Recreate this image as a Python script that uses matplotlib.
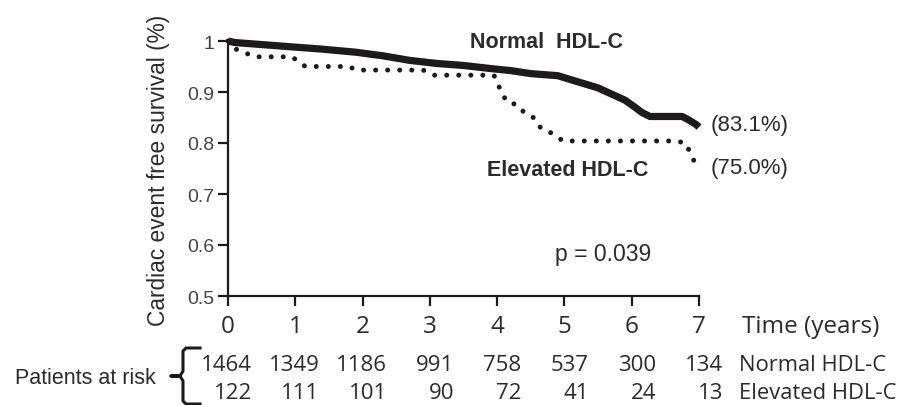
import matplotlib
matplotlib.use("Agg")
import matplotlib.pyplot as plt
from matplotlib.lines import Line2D
import matplotlib.transforms as mtrans

# ---- data ----
normal_t = [0, 0.1, 0.5, 1.0, 1.4, 1.9, 2.3, 2.7, 3.1, 3.5, 3.9, 4.2, 4.5, 4.9,
            5.1, 5.3, 5.5, 5.7, 5.9, 6.05, 6.15, 6.27, 6.75, 6.85, 6.96, 7.0]
normal_s = [1.0, 0.997, 0.993, 0.988, 0.984, 0.978, 0.971, 0.962, 0.956, 0.952,
            0.946, 0.942, 0.936, 0.932, 0.924, 0.916, 0.908, 0.896, 0.884, 0.870,
            0.860, 0.852, 0.852, 0.845, 0.836, 0.831]

elev_t = [0, 0.1, 0.4, 0.95, 1.15, 1.8, 1.9, 2.9, 3.05, 3.95, 4.0, 4.05, 4.15,
          4.3, 4.4, 4.55, 4.65, 4.8, 4.98, 6.65, 6.8, 6.88, 6.96]
elev_s = [1.0, 0.985, 0.969, 0.969, 0.950, 0.950, 0.943, 0.943, 0.933, 0.933,
          0.922, 0.902, 0.880, 0.875, 0.860, 0.849, 0.829, 0.820, 0.804, 0.804,
          0.800, 0.778, 0.755]

years = [0, 1, 2, 3, 4, 5, 6, 7]
risk_normal = [1464, 1349, 1186, 991, 758, 537, 300, 134]
risk_elevated = [122, 111, 101, 90, 72, 41, 24, 13]
yticks = [0.5, 0.6, 0.7, 0.8, 0.9, 1.0]
ytick_labels = ["0.5", "0.6", "0.7", "0.8", "0.9", "1"]

TXT = "#2b2b2b"
LINE = "#1e1a1b"
W, H = 901, 406

fig = plt.figure(figsize=(W / 100, H / 100), dpi=100)
ax = fig.add_axes([228 / W, 1 - 297 / H, 471 / W, 255 / H])

ax.plot(normal_t, normal_s, color=LINE, lw=5.2,
        solid_joinstyle="round", solid_capstyle="butt", clip_on=False, zorder=3)
ax.plot(elev_t, elev_s, color=LINE, lw=3.6,
        linestyle=(0, (0.01, 2.4)), dash_capstyle="round", clip_on=False, zorder=3)

ax.set_xlim(0, 7)
ax.set_ylim(0.5, 1.0)
for s in ["top", "right"]:
    ax.spines[s].set_visible(False)
for s in ["left", "bottom"]:
    ax.spines[s].set_linewidth(1.6)
    ax.spines[s].set_color(LINE)

ax.set_yticks(yticks)
ax.set_yticklabels(ytick_labels, fontfamily="Liberation Sans", fontsize=14, color="#444444")
ax.set_xticks(years)
ax.set_xticklabels([str(y) for y in years], fontfamily="Open Sans", fontsize=17.5, color=TXT)
ax.tick_params(axis="y", direction="out", length=7, width=1.6, color=LINE, pad=3)
ax.tick_params(axis="x", direction="out", length=7, width=1.6, color=LINE, pad=6)


def fx(px):
    return px / W


def fy(py):
    return 1 - py / H


fig.text(fx(546), fy(42), "Normal  HDL-C", ha="center", va="center",
         fontfamily="Liberation Sans", fontweight="bold", fontsize=15.5, color=TXT)
fig.text(fx(568), fy(171), "Elevated HDL-C", ha="center", va="center",
         fontfamily="Liberation Sans", fontweight="bold", fontsize=15.5, color=TXT)
fig.text(fx(711), fy(126), "(83.1%)", ha="left", va="center",
         fontfamily="Liberation Sans", fontsize=16, color=TXT)
fig.text(fx(711), fy(169), "(75.0%)", ha="left", va="center",
         fontfamily="Liberation Sans", fontsize=16, color=TXT)
fig.text(fx(603), fy(255), "p = 0.039", ha="center", va="center",
         fontfamily="Liberation Sans", fontsize=16.5, color=TXT)
fig.text(fx(742), fy(327), "Time (years)", ha="left", va="center",
         fontfamily="Open Sans", fontsize=17.5, color=TXT)
fig.text(fx(158), fy(170), "Cardiac event free survival (%)", ha="center", va="center",
         rotation=90, fontfamily="Liberation Sans", fontsize=16.4, color=TXT)

# risk table
trans = mtrans.blended_transform_factory(ax.transData, fig.transFigure)
for t, n1, n2 in zip(years, risk_normal, risk_elevated):
    fig.text(t + 0.36, fy(366), str(n1), transform=trans, ha="right", va="center",
             fontfamily="Open Sans", fontsize=16, color=TXT)
    fig.text(t + 0.36, fy(394), str(n2), transform=trans, ha="right", va="center",
             fontfamily="Open Sans", fontsize=16, color=TXT)
fig.text(fx(739), fy(366), "Normal HDL-C", ha="left", va="center",
         fontfamily="Open Sans", fontsize=15.8, color=TXT)
fig.text(fx(739), fy(394), "Elevated HDL-C", ha="left", va="center",
         fontfamily="Open Sans", fontsize=15.8, color=TXT)
fig.text(fx(85), fy(379), "Patients at risk", ha="center", va="center",
         fontfamily="Liberation Sans", fontsize=15.5, color=TXT)

# brace
bx = [200, 186, 183, 183, 180, 171, 180, 183, 183, 186, 200]
by = [349, 349, 352, 372, 377, 377, 377, 382, 402, 405, 405]
fig.add_artist(Line2D([fx(v) for v in bx], [fy(v) for v in by],
                      transform=fig.transFigure, color=LINE, lw=2.2,
                      solid_joinstyle="round"))

fig.savefig("out.png", dpi=100)
